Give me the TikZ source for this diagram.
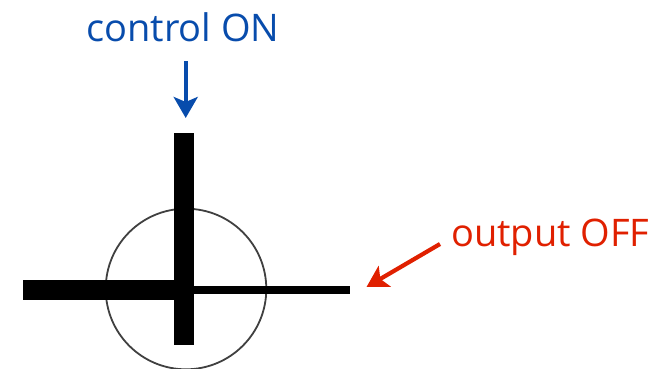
\documentclass[tikz,border=0pt]{standalone}
\usepackage{fontspec}
\setmainfont{Open Sans}
\usetikzlibrary{arrows.meta}
\definecolor{ctrlblue}{RGB}{8,76,172}
\definecolor{outred}{RGB}{224,32,0}
\tikzset{
    bar/.style={fill=black},
    lbl/.style={inner sep=0pt,font=\fontsize{38}{42}\selectfont},
    pointer/.style={line width=4.2pt,-{Stealth[length=21pt,width=24pt,inset=5pt]}}
}
\begin{document}
\begin{tikzpicture}[x=1pt,y=1pt]
    \useasboundingbox (0,0) rectangle (671,368);
    \draw [black!75,line width=1.8pt] (186,79) circle (80.3);
    \foreach \xa/\ya/\xb/\yb in {173.5/235/194/23, 22.5/88.5/173.5/68, 194/82.5/349.5/74}
        \fill [bar] (\xa,\ya) rectangle (\xb,\yb);
    \node [lbl,text=ctrlblue,anchor=base] (control) at (183,327) {control ON};
    \node [lbl,text=outred,anchor=base west] (output) at (451,122) {output OFF};
    \coordinate (controltip) at (185.7,250);
    \coordinate (outputtip) at (366.5,81);
    \draw [pointer,ctrlblue] ([yshift=-20]control.base -| controltip) -- (controltip);
    \draw [pointer,outred] ([xshift=-11,yshift=2]output.base west) -- (outputtip);
\end{tikzpicture}
\end{document}
